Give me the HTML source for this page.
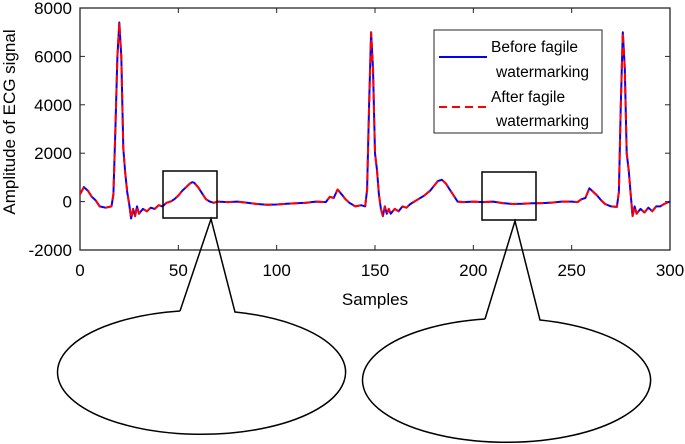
<!DOCTYPE html>
<html><head><meta charset="utf-8"><style>
html,body{margin:0;padding:0;background:#fff;}
svg{display:block;font-family:"Liberation Sans",Arial,sans-serif;}
</style></head><body>
<svg id="c" width="685" height="444" viewBox="0 0 685 444" xmlns="http://www.w3.org/2000/svg"></svg>
<script>
const samples=[0,2,4,6,8,10,13,16,17,18,19,20,21,22,23,24,25,26,27,28,29,30,32,34,36,38,40,42,44,46,48,50,52,54,56,57,58,60,62,64,66,68,70,75,80,85,90,95,100,105,110,115,120,125,127,129,131,133,135,137,140,143,145,146,147,148,149,150,151,152,153,154,155,156,157,158,160,162,164,166,168,170,172,175,178,180,182,184,186,188,190,192,195,200,205,210,215,220,225,230,235,240,245,250,253,255,257,259,261,263,265,267,270,273,274,275,276,277,278,279,280,281,282,283,285,287,289,291,293,295,297,300];
const beforeValues=[300,600,450,200,50,-200,-250,-200,300,3000,6000,7400,6000,2200,1200,400,-100,-700,-300,-600,-200,-500,-300,-400,-250,-300,-150,-200,-50,0,100,250,450,600,750,800,780,600,350,100,0,-50,0,-20,0,-50,-100,-130,-120,-90,-70,-50,0,-20,200,150,500,300,100,-50,-200,-150,-200,500,4000,7000,5500,2000,1300,300,-300,-600,-200,-500,-300,-500,-300,-400,-200,-250,-100,0,100,250,450,650,850,900,750,500,250,0,-20,0,-20,0,-60,-100,-90,-70,-60,-40,0,0,-20,100,150,550,400,250,50,-100,-200,-220,400,4000,7000,5500,2000,1300,300,-600,-200,-500,-300,-450,-250,-400,-200,-200,-100,0];
const afterValues=[300,600,450,200,50,-200,-250,-200,300,3000,6000,7400,6000,2200,1200,400,-100,-700,-300,-600,-200,-500,-300,-400,-250,-300,-150,-200,-50,0,100,250,450,600,750,800,780,600,350,100,0,-50,0,-20,0,-50,-100,-130,-120,-90,-70,-50,0,-20,200,150,500,300,100,-50,-200,-150,-200,500,4000,7000,5500,2000,1300,300,-300,-600,-200,-500,-300,-500,-300,-400,-200,-250,-100,0,100,250,450,650,850,900,750,500,250,0,-20,0,-20,0,-60,-100,-90,-70,-60,-40,0,0,-20,100,150,550,400,250,50,-100,-200,-220,400,4000,7000,5500,2000,1300,300,-600,-200,-500,-300,-450,-250,-400,-200,-200,-100,0];
const xTicks=[0,50,100,150,200,250,300];
const yTicks=[-2000,0,2000,4000,6000,8000];

const NS="http://www.w3.org/2000/svg";
const svg=document.getElementById('c');
const L=80,R=670,T=8,B=250;
const xs=v=>L+(v-0)/(300-0)*(R-L);
const ys=v=>B-(v+2000)/(10000)*(B-T);
function mk(tag,attrs,parent){const e=document.createElementNS(NS,tag);for(const k in attrs)e.setAttribute(k,attrs[k]);(parent||svg).appendChild(e);return e;}

// axes box
const box=mk('rect',{x:L,y:T,width:R-L,height:B-T,fill:'none',stroke:'#262626','stroke-width':1.3});


xTicks.forEach(t=>{
  const x=xs(t);
  mk('line',{x1:x,y1:B,x2:x,y2:B-5,stroke:'#262626'});
  mk('line',{x1:x,y1:T,x2:x,y2:T+5,stroke:'#262626'});
  const tx=mk('text',{x:x,y:B+26,'font-size':17,'text-anchor':'middle',fill:'#000'});
  tx.textContent=t;
  
  
});
yTicks.forEach(t=>{
  const y=ys(t);
  mk('line',{x1:L,y1:y,x2:L+5,y2:y,stroke:'#262626'});
  mk('line',{x1:R,y1:y,x2:R-5,y2:y,stroke:'#262626'});
  const tx=mk('text',{x:L-8,y:y+6,'font-size':17,'text-anchor':'end',fill:'#000'});
  tx.textContent=t;
  
  
});
const xl=mk('text',{x:375,y:305,'font-size':17,'text-anchor':'middle'});
xl.textContent='Samples';


const yl=mk('text',{x:0,y:0,'font-size':17,'text-anchor':'middle',transform:'translate(15,122) rotate(-90)'});
yl.textContent='Amplitude of ECG signal';



function pts(vals){return samples.map((s,i)=>xs(s).toFixed(1)+','+ys(vals[i]).toFixed(1)).join(' ');}
const l1=mk('polyline',{points:pts(beforeValues),fill:'none',stroke:'#0000ff','stroke-width':2,'stroke-linejoin':'round'});


const l2=mk('polyline',{points:pts(afterValues),fill:'none',stroke:'#ff0000','stroke-width':2,'stroke-dasharray':'8 5','stroke-linejoin':'round'});



// legend
const lg=mk('g',{});


mk('rect',{x:434,y:30,width:168,height:103,fill:'#fff',stroke:'#262626'},lg);
mk('line',{x1:439,y1:57,x2:487,y2:57,stroke:'#0000ff','stroke-width':2},lg);
mk('line',{x1:439,y1:107,x2:487,y2:107,stroke:'#ff0000','stroke-width':2,'stroke-dasharray':'8 5'},lg);
[['Before fagile',491,52],['watermarking',496,77],['After fagile',491,102],['watermarking',496,126]].forEach(a=>{
  const t=mk('text',{x:a[1],y:a[2],'font-size':15.5},lg);t.textContent=a[0];
  
  
});

// zoom boxes and callouts
function callout(bx,by,bw,bh,ax,ay,p1,p2,cx,cy,rx,ry,name){
  const g=mk('g',{fill:'none',stroke:'#000','stroke-width':1.5});
  
  
  mk('rect',{x:bx,y:by,width:bw,height:bh},g);
  mk('path',{d:`M${p1[0]},${p1[1]} L${ax},${ay} L${p2[0]},${p2[1]} A${rx},${ry} 0 1 1 ${p1[0]},${p1[1]}`,fill:'none'},g);
}
callout(163,171,54,47,211,219,[180,311],[235,312],204,373,144,62,'zoom-callout-1');
callout(482,172,54,48,515,221,[485,319],[540,320],510,381,144,62,'zoom-callout-2');
</script>
</body></html>
